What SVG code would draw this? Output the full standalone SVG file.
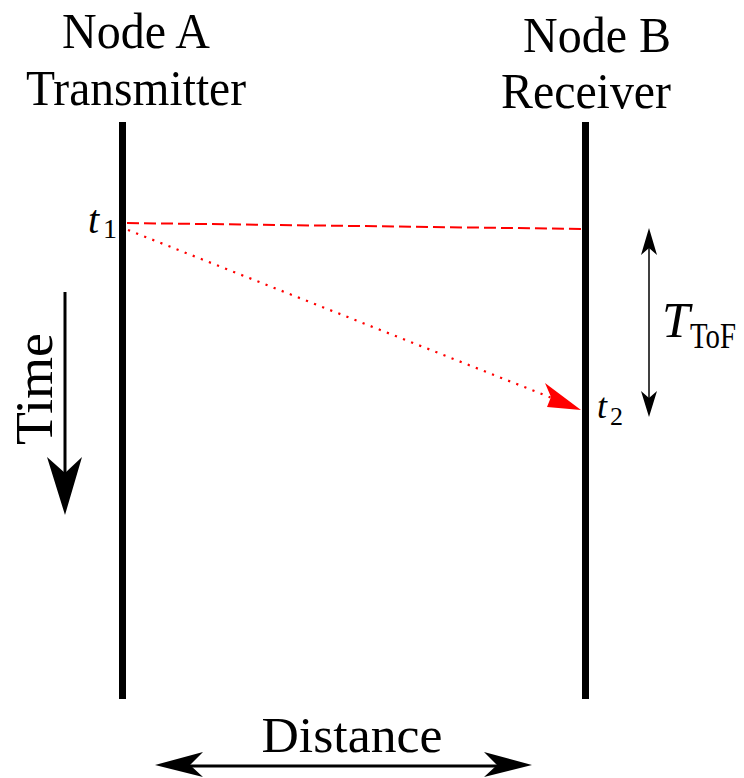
<svg xmlns="http://www.w3.org/2000/svg" width="744" height="778" viewBox="0 0 744 778">
<style>
text{font-family:'Liberation Serif','Times New Roman',serif;fill:#000}
.it{font-style:italic}
.life{stroke:#000;stroke-width:7;fill:none}
.ax{stroke:#000;fill:none}
.ah{fill:#000;stroke:none}
</style>
<rect width="744" height="778" fill="#fff"/>
<g id="nodeA">
<text x="136" y="48" font-size="50" text-anchor="middle" textLength="148" lengthAdjust="spacingAndGlyphs">Node A</text>
<text x="136" y="105" font-size="50" text-anchor="middle" textLength="220" lengthAdjust="spacingAndGlyphs">Transmitter</text>
<line class="life" x1="122.5" y1="122" x2="122.5" y2="699"/>
<text class="it" x="88" y="233" font-size="40">t</text>
<text x="103" y="238" font-size="28">1</text>
</g>
<g id="nodeB">
<text x="597" y="52" font-size="50" text-anchor="middle" textLength="148" lengthAdjust="spacingAndGlyphs">Node B</text>
<text x="586" y="108" font-size="50" text-anchor="middle" textLength="170" lengthAdjust="spacingAndGlyphs">Receiver</text>
<line class="life" x1="585.5" y1="122" x2="585.5" y2="699"/>
<text class="it" x="597" y="418" font-size="36">t</text>
<text x="610" y="425" font-size="26">2</text>
</g>
<g id="connectors">
<line x1="127" y1="223" x2="585" y2="229" stroke="#f00" stroke-width="2" stroke-dasharray="12,5"/>
<line x1="128" y1="230" x2="552" y2="398" stroke="#f00" stroke-width="2.2" stroke-dasharray="2.2,6.5"/>
<path d="M581,410 L545,383 L551,397 L547,407 Z" fill="#f00"/>
<line class="ax" x1="649" y1="245" x2="649" y2="400" stroke-width="1.5"/>
<path class="ah" d="M649,228 L657,255 L649,248 L641,255 Z"/>
<path class="ah" d="M649,417 L657,391 L649,398 L641,391 Z"/>
<line class="ax" x1="65" y1="292" x2="65" y2="476" stroke-width="3"/>
<path class="ah" d="M65,515 L82,457 L65,473 L47,457 Z"/>
<line class="ax" x1="185" y1="766" x2="502" y2="766" stroke-width="3"/>
<path class="ah" d="M155,765 L203,752 L190,765 L203,777 Z"/>
<path class="ah" d="M532,765 L484,752 L497,765 L484,777 Z"/>
</g>
<g id="labels">
<text class="it" x="662" y="337" font-size="50">T</text>
<text x="690" y="348" font-size="35" textLength="46" lengthAdjust="spacingAndGlyphs">ToF</text>
<text transform="translate(52,445) rotate(-90)" font-size="52" textLength="112" lengthAdjust="spacingAndGlyphs">Time</text>
<text x="352" y="752" font-size="50" text-anchor="middle" textLength="181" lengthAdjust="spacingAndGlyphs">Distance</text>
</g>
</svg>
